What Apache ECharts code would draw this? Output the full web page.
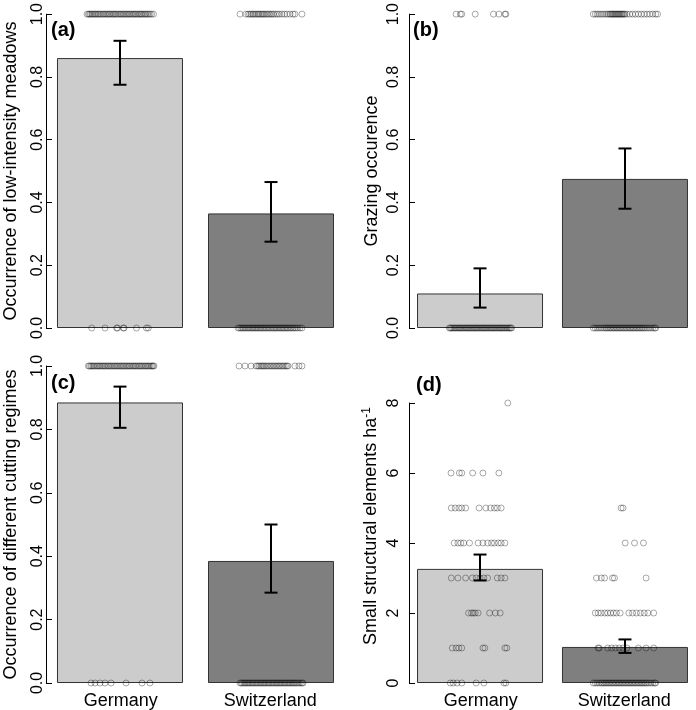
<!DOCTYPE html>
<html><head><meta charset="utf-8">
<script src="https://cdn.jsdelivr.net/npm/echarts@6/dist/echarts.min.js"></script>
<style>html,body{margin:0;padding:0;background:#fff}#c{width:696px;height:710px}</style>
</head><body><div id="c"></div>
<script>
const FONT = "'Liberation Sans', Arial, Helvetica, sans-serif";
const countries = ['Germany', 'Switzerland'];
const barPos = [0.7, 1.9];
const xRange = [0.112, 2.488];
const barColors = ['#cccccc', '#7f7f7f'];
const panelLetters = ['(a)', '(b)', '(c)', '(d)'];
const yTitles = ['Occurrence of low-intensity meadows', 'Grazing occurence', 'Occurrence of different cutting regimes', 'Small structural elements ha{sup|-1}'];

// bar means and error limits [Germany, Switzerland]
const meanA = [0.86, 0.365], loA = [0.775, 0.275], hiA = [0.915, 0.465];
const meanB = [0.11, 0.475], loB = [0.065, 0.38], hiB = [0.19, 0.572];
const meanC = [0.885, 0.385], loC = [0.805, 0.285], hiC = [0.935, 0.50];
const meanD = [3.26, 1.03], loD = [2.93, 0.86], hiD = [3.67, 1.245];

// jittered raw observations: horizontal offsets from bar centre, one array per observed value
const aDE_1 = [-0.262,-0.251,-0.243,-0.235,-0.224,-0.216,-0.205,-0.196,-0.188,-0.177,-0.169,-0.158,-0.149,-0.137,-0.129,-0.118,-0.107,-0.099,-0.088,-0.080,-0.069,-0.058,-0.050,-0.039,-0.031,-0.020,-0.009,0.002,0.010,0.021,0.029,0.040,0.051,0.059,0.070,0.078,0.089,0.100,0.108,0.119,0.127,0.138,0.149,0.157,0.168,0.176,0.187,0.198,0.206,0.217,0.228,0.239,0.251,0.266];
const aDE_0 = [-0.225,-0.119,-0.026,-0.020,0.026,0.032,0.131,0.210,0.225];
const aCH_1 = [-0.246,-0.200,-0.183,-0.171,-0.159,-0.147,-0.139,-0.127,-0.115,-0.103,-0.095,-0.083,-0.071,-0.063,-0.052,-0.040,-0.028,-0.016,-0.004,0.008,0.020,0.036,0.052,0.067,0.087,0.107,0.127,0.151,0.175,0.190,0.246];
const aCH_0 = [-0.262,-0.250,-0.238,-0.228,-0.218,-0.206,-0.196,-0.183,-0.175,-0.163,-0.152,-0.143,-0.131,-0.122,-0.111,-0.100,-0.090,-0.079,-0.068,-0.058,-0.046,-0.036,-0.024,-0.014,-0.002,0.010,0.020,0.031,0.042,0.052,0.064,0.075,0.085,0.096,0.107,0.118,0.129,0.140,0.152,0.163,0.175,0.187,0.199,0.214,0.230,0.246];

const bDE_1 = [-0.198,-0.163,-0.151,-0.040,0.111,0.156,0.206,0.214];
const bDE_0 = [-0.254,-0.245,-0.236,-0.226,-0.216,-0.207,-0.198,-0.188,-0.178,-0.169,-0.160,-0.150,-0.141,-0.131,-0.122,-0.113,-0.103,-0.094,-0.084,-0.075,-0.066,-0.056,-0.047,-0.037,-0.028,-0.019,-0.009,0.000,0.010,0.019,0.028,0.038,0.047,0.056,0.066,0.075,0.085,0.094,0.103,0.113,0.122,0.132,0.141,0.150,0.160,0.169,0.179,0.188,0.198,0.207,0.217,0.226,0.236,0.245,0.254,0.262];
const bCH_1 = [-0.262,-0.246,-0.230,-0.214,-0.198,-0.183,-0.167,-0.151,-0.139,-0.127,-0.119,-0.111,-0.103,-0.095,-0.087,-0.079,-0.071,-0.063,-0.056,-0.048,-0.040,-0.032,-0.024,-0.016,-0.008,0.000,0.016,0.040,0.063,0.087,0.111,0.135,0.159,0.183,0.206,0.230,0.254,0.270];
const bCH_0 = [-0.262,-0.246,-0.230,-0.214,-0.198,-0.183,-0.167,-0.155,-0.143,-0.131,-0.119,-0.107,-0.095,-0.083,-0.071,-0.059,-0.048,-0.036,-0.024,-0.012,0.000,0.012,0.024,0.036,0.048,0.060,0.071,0.083,0.095,0.107,0.119,0.131,0.143,0.155,0.167,0.183,0.198,0.214,0.230,0.246,0.254];

const cDE_1 = [-0.251,-0.243,-0.232,-0.224,-0.213,-0.205,-0.194,-0.183,-0.175,-0.164,-0.156,-0.145,-0.136,-0.125,-0.117,-0.106,-0.095,-0.087,-0.076,-0.068,-0.057,-0.046,-0.038,-0.027,-0.019,-0.008,0.003,0.011,0.022,0.030,0.041,0.052,0.060,0.071,0.079,0.090,0.101,0.109,0.120,0.128,0.139,0.150,0.158,0.169,0.177,0.188,0.199,0.207,0.218,0.226,0.237,0.248,0.256,0.263,0.270];
const cDE_0 = [-0.230,-0.198,-0.159,-0.119,-0.071,0.048,0.175,0.238];
const cCH_1 = [-0.254,-0.206,-0.159,-0.119,-0.107,-0.095,-0.083,-0.071,-0.063,-0.052,-0.040,-0.028,-0.016,-0.004,0.008,0.020,0.032,0.044,0.056,0.067,0.079,0.091,0.103,0.115,0.127,0.135,0.190,0.222,0.246];
const cCH_0 = [-0.246,-0.236,-0.226,-0.214,-0.204,-0.194,-0.183,-0.173,-0.163,-0.151,-0.141,-0.131,-0.119,-0.109,-0.099,-0.087,-0.077,-0.067,-0.056,-0.046,-0.036,-0.024,-0.014,-0.004,0.008,0.018,0.028,0.040,0.050,0.060,0.071,0.081,0.091,0.103,0.113,0.123,0.135,0.145,0.155,0.167,0.177,0.187,0.198,0.210,0.222,0.234,0.246,0.254];

const dDE_8 = [0.230];
const dDE_6 = [-0.240,-0.171,-0.151,-0.061,0.024,0.156];
const dDE_5 = [-0.238,-0.206,-0.175,-0.151,-0.119,-0.008,0.048,0.087,0.119,0.143,0.175];
const dDE_4 = [-0.214,-0.183,-0.159,-0.135,-0.087,-0.016,0.024,0.063,0.095,0.119,0.151,0.175,0.206];
const dDE_3 = [-0.238,-0.183,-0.119,-0.063,-0.032,0.000,0.032,0.063,0.143,0.175,0.206];
const dDE_2 = [-0.095,-0.071,-0.056,-0.040,-0.016,0.079,0.127,0.167];
const dDE_1 = [-0.230,-0.198,-0.175,-0.151,0.024,0.040,0.206,0.222];
const dDE_0 = [-0.246,-0.222,-0.190,-0.151,-0.032,0.032,0.198,0.214];
const dCH_5 = [-0.032,-0.016];
const dCH_4 = [0.002,0.079,0.153];
const dCH_3 = [-0.236,-0.196,-0.169,-0.103,-0.087,0.175];
const dCH_2 = [-0.246,-0.222,-0.198,-0.167,-0.143,-0.119,-0.095,-0.071,-0.040,0.032,0.063,0.095,0.127,0.159,0.190,0.238];
const dCH_1 = [-0.222,-0.214,-0.143,-0.111,-0.079,-0.048,-0.016,0.016,0.111,0.175,0.238];
const dCH_0 = [-0.262,-0.246,-0.230,-0.214,-0.198,-0.187,-0.175,-0.163,-0.151,-0.139,-0.127,-0.115,-0.103,-0.091,-0.079,-0.067,-0.055,-0.044,-0.032,-0.020,-0.008,0.004,0.016,0.028,0.040,0.052,0.063,0.075,0.087,0.099,0.111,0.123,0.135,0.147,0.159,0.171,0.183,0.198,0.214,0.230,0.246,0.254];

function rowPts(ci, offsets, value) { return offsets.map(o => [barPos[ci] + o, value]); }

const ptsA = [].concat(rowPts(0, aDE_1, 1), rowPts(0, aDE_0, 0), rowPts(1, aCH_1, 1), rowPts(1, aCH_0, 0));
const ptsB = [].concat(rowPts(0, bDE_1, 1), rowPts(0, bDE_0, 0), rowPts(1, bCH_1, 1), rowPts(1, bCH_0, 0));
const ptsC = [].concat(rowPts(0, cDE_1, 1), rowPts(0, cDE_0, 0), rowPts(1, cCH_1, 1), rowPts(1, cCH_0, 0));
const ptsD = [].concat(
  rowPts(0, dDE_8, 8), rowPts(0, dDE_6, 6), rowPts(0, dDE_5, 5), rowPts(0, dDE_4, 4),
  rowPts(0, dDE_3, 3), rowPts(0, dDE_2, 2), rowPts(0, dDE_1, 1), rowPts(0, dDE_0, 0),
  rowPts(1, dCH_5, 5), rowPts(1, dCH_4, 4), rowPts(1, dCH_3, 3), rowPts(1, dCH_2, 2),
  rowPts(1, dCH_1, 1), rowPts(1, dCH_0, 0));

const panels = [
  {mean: meanA, lo: loA, hi: hiA, pts: ptsA, max: 1, interval: 0.2, dec: 1},
  {mean: meanB, lo: loB, hi: hiB, pts: ptsB, max: 1, interval: 0.2, dec: 1},
  {mean: meanC, lo: loC, hi: hiC, pts: ptsC, max: 1, interval: 0.2, dec: 1},
  {mean: meanD, lo: loD, hi: hiD, pts: ptsD, max: 8, interval: 2, dec: 0}
];

const grids = [
  {left: 46, top: 12, width: 299, height: 316},
  {left: 409, top: 12, width: 299, height: 316},
  {left: 46, top: 366, width: 299, height: 317},
  {left: 409, top: 403, width: 299, height: 280}
];
const labelMargin = [0, 7, 0, 7];
const nameGap = [26, 28, 26, 28];
const letterPos = [[51, 20], [413, 20], [51, 373], [416, 375]];

const xAxes = [], yAxes = [], series = [];
panels.forEach((p, i) => {
  xAxes.push({type: 'value', gridIndex: i, min: xRange[0], max: xRange[1], show: false, position: 'bottom'});
  yAxes.push({
    type: 'value', gridIndex: i, min: 0, max: p.max, interval: p.interval,
    axisLine: {show: true, onZero: false, lineStyle: {color: '#000', width: 1}},
    axisTick: {show: true, inside: true, length: 6, lineStyle: {color: '#000', width: 1}},
    axisLabel: {rotate: 90, fontSize: 16, color: '#000', margin: labelMargin[i], fontFamily: FONT,
      formatter: v => v.toFixed(p.dec)},
    splitLine: {show: false},
    name: yTitles[i], nameLocation: 'middle', nameGap: nameGap[i],
    nameTextStyle: {fontSize: 18, color: '#000', fontFamily: FONT,
      padding: i === 3 ? [0, 0, 0, 34] : 0,
      rich: {sup: {fontSize: 12, color: '#000', fontFamily: FONT, verticalAlign: 'top', padding: [0, 0, 8, 0]}}}
  });
  series.push({
    type: 'bar', xAxisIndex: i, yAxisIndex: i, barWidth: 126, silent: true,
    data: p.mean.map((m, c) => ({value: [barPos[c], m], itemStyle: {color: barColors[c], borderColor: '#333', borderWidth: 1}})),
    z: 1
  });
  series.push({
    type: 'scatter', xAxisIndex: i, yAxisIndex: i, clip: false, silent: true,
    symbol: 'circle', symbolSize: 6,
    itemStyle: {color: 'rgba(0,0,0,0)', borderColor: 'rgba(0,0,0,0.42)', borderWidth: 1},
    data: p.pts, z: 2
  });
  series.push({
    type: 'custom', xAxisIndex: i, yAxisIndex: i, silent: true, z: 3,
    encode: {x: 0, y: [1, 2]},
    data: p.mean.map((m, c) => [barPos[c], p.lo[c], p.hi[c]]),
    renderItem: (params, api) => {
      const x = api.value(0);
      const a = api.coord([x, api.value(1)]);
      const b = api.coord([x, api.value(2)]);
      const hw = 6.5;
      const st = {stroke: '#000', lineWidth: 2};
      return {type: 'group', children: [
        {type: 'line', shape: {x1: a[0], y1: a[1], x2: b[0], y2: b[1]}, style: st},
        {type: 'line', shape: {x1: b[0] - hw, y1: b[1], x2: b[0] + hw, y2: b[1]}, style: st},
        {type: 'line', shape: {x1: a[0] - hw, y1: a[1], x2: a[0] + hw, y2: a[1]}, style: st}
      ]};
    }
  });
});
// country labels under the bottom panels
[2, 3].forEach(i => {
  xAxes.push({type: 'category', gridIndex: i, position: 'bottom', data: countries,
    axisLine: {show: false}, axisTick: {show: false}, splitLine: {show: false},
    axisLabel: {fontSize: 18, color: '#000', margin: 9, fontFamily: FONT}});
});

const chart = echarts.init(document.getElementById('c'), null, {renderer: 'canvas'});
chart.setOption({
  animation: false,
  backgroundColor: '#fff',
  textStyle: {fontFamily: FONT},
  title: panelLetters.map((t, i) => ({text: t, left: letterPos[i][0], top: letterPos[i][1], padding: 0,
    textStyle: {fontSize: 20, fontWeight: 'bold', color: '#000', fontFamily: FONT}})),
  grid: grids,
  xAxis: xAxes,
  yAxis: yAxes,
  series: series
});
</script>
</body></html>
